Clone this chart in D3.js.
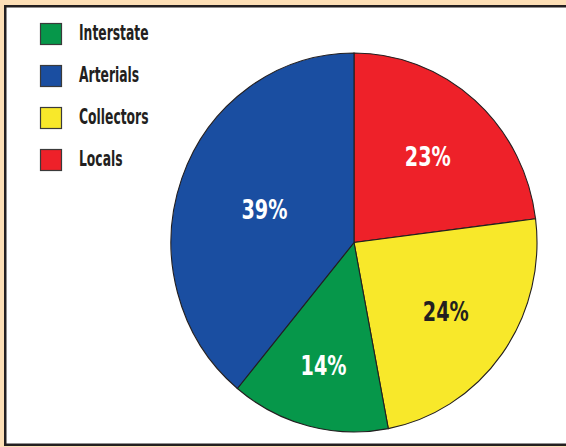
<!DOCTYPE html>
<html>
<head>
<meta charset="utf-8">
<script src="https://cdn.jsdelivr.net/npm/d3@7"></script>
<style>
  html, body { margin: 0; padding: 0; background: #fddfb6; }
  svg { display: block; }
  .lbl { font-family: "DejaVu Sans Condensed", "DejaVu Sans", sans-serif; font-weight: bold; }
</style>
</head>
<body>
<div class="chart"></div>
<script>
'use strict'

const categories = ['Locals', 'Collectors', 'Interstate', 'Arterials']
const shares = [23, 24, 14, 39]
const legendOrder = ['Interstate', 'Arterials', 'Collectors', 'Locals']

const colors = {
  Interstate: '#06974a',
  Arterials: '#1a4ea1',
  Collectors: '#f8e82a',
  Locals: '#ee2129'
}
const textColors = { Interstate: '#fff', Arterials: '#fff', Collectors: '#231f20', Locals: '#fff' }
// how far out each label sits, as a share of the radius
const labelR = { Interstate: 0.67, Arterials: 0.52, Collectors: 0.62, Locals: 0.61 }

const width = 566
const height = 447
const rx = 183
const ry = 189.5
// no narrow font installed, so squeeze the condensed one
const squeeze = 0.79
const legendSqueeze = 0.67

const svg = d3.select('.chart').append('svg')
    .attr('width', width)
    .attr('height', height)

// white panel with dark frame (runs off the right edge)
svg.append('rect')
    .attr('x', 5.25).attr('y', 6.25)
    .attr('width', width + 20).attr('height', 438.5)
    .attr('fill', '#fff')
    .attr('stroke', '#231f20')
    .attr('stroke-width', 2.5)

const pie = d3.pie().sort(null).value(d => d.value)
const slices = pie(categories.map((c, i) => ({ name: c, value: shares[i] })))

const arc = d3.arc().innerRadius(0).outerRadius(rx)

const g = svg.append('g')
    .attr('transform', 'translate(354,242.5) scale(1,' + (ry / rx) + ')')

g.selectAll('.slice')
    .data(slices)
  .enter().append('path')
    .attr('class', 'slice')
    .attr('d', arc)
    .attr('fill', d => colors[d.data.name])
    .attr('stroke', '#231f20')
    .attr('stroke-width', 1.1)
    .attr('vector-effect', 'non-scaling-stroke')

svg.append('g')
    .attr('transform', 'translate(354,242.5)')
  .selectAll('text')
    .data(slices)
  .enter().append('text')
    .attr('class', 'lbl')
    .attr('transform', function(d) {
      const k = labelR[d.data.name] * rx
      const c = d3.arc().innerRadius(k).outerRadius(k).centroid(d)
      return 'translate(' + c[0] + ',' + (c[1] * ry / rx) + ') scale(' + squeeze + ',1)'
    })
    .attr('dy', '0.36em')
    .attr('text-anchor', 'middle')
    .attr('font-size', 27)
    .attr('fill', d => textColors[d.data.name])
    .text(d => d.data.value + '%')

// legend
const ly = d3.scaleBand().domain(legendOrder).range([23, 191]).paddingInner(0)

const item = svg.selectAll('.legend')
    .data(legendOrder)
  .enter().append('g')
    .attr('class', 'legend')
    .attr('transform', d => 'translate(40,' + ly(d) + ')')

item.append('rect')
    .attr('x', 0.5).attr('y', 0.5)
    .attr('width', 21).attr('height', 21)
    .attr('fill', d => colors[d])
    .attr('stroke', '#3a3a3a')
    .attr('stroke-width', 1.2)

item.append('text')
    .attr('class', 'lbl')
    .attr('transform', 'translate(39,17) scale(' + legendSqueeze + ',1)')
    .attr('font-size', 20.5)
    .attr('fill', '#231f20')
    .text(d => d)
</script>
</body>
</html>
